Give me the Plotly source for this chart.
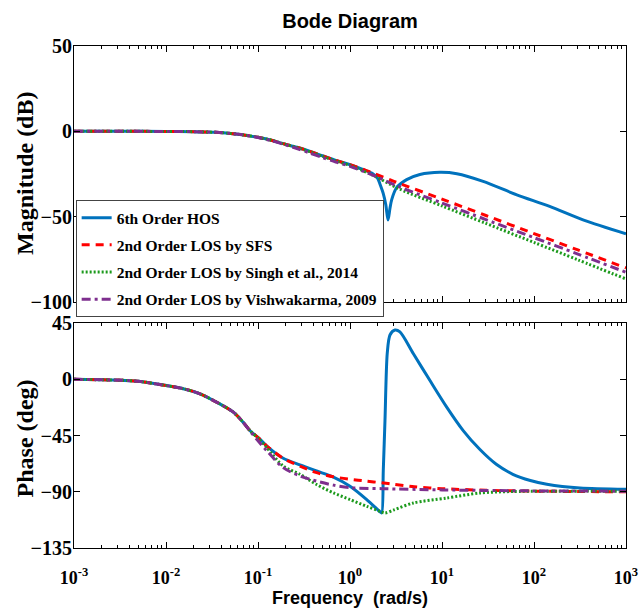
import plotly.graph_objects as go

# ---------------- Magnitude data (rad/s, dB) ----------------
w_mag_hos = [0.001, 0.003, 0.01, 0.02, 0.035, 0.05, 0.07, 0.1, 0.14, 0.19, 0.27, 0.37, 0.5, 0.7, 1.0, 1.4, 1.74,
             2.0, 2.12, 2.3, 2.45, 2.59, 2.72, 2.84, 3.21, 4.13, 5.75, 9.5, 14.5, 28, 65, 148, 347, 1000]
mag_hos = [0, 0, -0.05, -0.2, -0.6, -1.2, -2.1, -3.5, -5.2, -7.3, -9.5, -11.8, -14.3, -17.0, -19.6, -22.5, -24.6,
           -27.5, -31, -36.5, -43, -52, -45, -40, -33, -28.3, -25.3, -24.0, -24.8, -29.3, -37.2, -44, -52, -60]

w_mag_sfs = [0.001, 0.003, 0.01, 0.02, 0.035, 0.05, 0.07, 0.1, 0.14, 0.19, 0.27, 0.37, 0.5, 0.7, 1.0, 1.4, 1.74,
             3, 10, 30, 100, 300, 1000]
mag_sfs = [0, 0, -0.05, -0.2, -0.6, -1.2, -2.1, -3.5, -5.2, -7.3, -9.5, -11.8, -14.3, -17.0, -19.5, -22.3, -24.3,
           -29.3, -39.7, -49.3, -59.9, -69.5, -80.0]

w_mag_singh = [0.001, 0.003, 0.01, 0.02, 0.035, 0.05, 0.07, 0.1, 0.14, 0.19, 0.27, 0.37, 0.5, 0.7, 1.0, 1.74,
               3.49, 10, 30, 100, 300, 1000]
mag_singh = [0, 0, -0.05, -0.2, -0.6, -1.2, -2.1, -3.5, -5.2, -7.3, -9.6, -12.0, -14.6, -17.3, -20.0, -25.5,
             -33.9, -43.7, -53.9, -65.1, -75.3, -86.5]

w_mag_vish = [0.001, 0.003, 0.01, 0.02, 0.035, 0.05, 0.07, 0.1, 0.14, 0.19, 0.27, 0.37, 0.5, 0.7, 1.0, 1.74,
              3.49, 10, 30, 100, 300, 1000]
mag_vish = [0, 0, -0.05, -0.2, -0.6, -1.2, -2.1, -3.6, -5.5, -7.6, -10.2, -12.8, -15.3, -18.0, -20.5, -25.5,
            -32.7, -42.0, -51.7, -62.3, -71.9, -82.6]

# ---------------- Phase data (rad/s, deg) ----------------
w_ph_hos = [0.001, 0.0025, 0.005, 0.0068, 0.0154, 0.0234, 0.0356, 0.054, 0.069, 0.082, 0.105, 0.124, 0.188,
            0.286, 0.434, 0.66, 1.0, 1.52, 2.12, 2.21, 2.3, 2.4, 2.54, 2.72, 3.08, 3.49, 4.87, 7.4, 11.2, 17,
            25.7, 38.9, 58.9, 91.2, 138, 316, 1000]
ph_hos = [0, -0.5, -1.5, -3, -7.5, -11.6, -18.3, -26.3, -34.4, -41.1, -47.8, -53.2, -63.2,
          -68.5, -73.4, -78.2, -85.5, -96.2, -106, -107, -73, -33, 20.7, 35.5, 39.5, 38, 20.7, -1, -22, -41,
          -56, -68, -76, -81, -84, -87, -88]

w_ph_sfs = [0.001, 0.0025, 0.005, 0.0068, 0.0154, 0.0234, 0.0356, 0.054, 0.069, 0.082, 0.105, 0.124, 0.188,
            0.286, 0.434, 0.66, 1.0, 1.52, 2.2, 3, 5, 10, 30, 100, 1000]
ph_sfs = [0, -0.5, -1.5, -3, -7.5, -11.6, -18.3, -26.3, -34.4, -41.1, -47.8, -53.2, -63.2,
          -69.5, -74.7, -78.0, -80.0, -81.5, -82.8, -84.0, -86.0, -87.5, -88.8, -89.5, -90.0]

w_ph_singh = [0.001, 0.0025, 0.005, 0.0068, 0.0154, 0.0234, 0.0356, 0.054, 0.069, 0.082, 0.105, 0.124, 0.188,
              0.286, 0.434, 0.66, 1.0, 1.52, 2.12, 2.4, 3, 4.87, 11.2, 25.7, 58.9, 1000]
ph_singh = [0, -0.5, -1.5, -3, -7.5, -11.6, -18.3, -26.3, -34.4, -41.1, -48.5, -54.5, -69.4,
            -76.0, -84.2, -90.9, -96.2, -101.6, -105.6, -107, -104.5, -99, -95, -91, -89.8, -89.5]

w_ph_vish = [0.001, 0.0025, 0.005, 0.0068, 0.0154, 0.0234, 0.0356, 0.054, 0.069, 0.082, 0.105, 0.124, 0.188,
             0.286, 0.434, 0.66, 1.0, 2.2, 10, 100, 1000]
ph_vish = [0, -0.5, -1.5, -3, -7.5, -11.6, -18.3, -26.3, -34.4, -41.5, -51, -57, -70.7,
           -77.4, -81.5, -84.7, -86.8, -87.5, -88.5, -89.3, -89.5]

series_names = ["6th Order HOS", "2nd Order LOS by SFS", "2nd Order LOS by Singh et al., 2014",
                "2nd Order LOS by Vishwakarma, 2009"]
x_tickvals = [0.001, 0.01, 0.1, 1, 10, 100, 1000]
x_ticktext = ["10<sup>-3</sup>", "10<sup>-2</sup>", "10<sup>-1</sup>", "10<sup>0</sup>",
              "10<sup>1</sup>", "10<sup>2</sup>", "10<sup>3</sup>"]

styles = [
    dict(color="#0072BD", width=3, dash="solid"),
    dict(color="#FF0000", width=3, dash="8px,6px"),
    dict(color="#1C9A1C", width=3, dash="2px,2px"),
    dict(color="#7E2F8E", width=3, dash="9px,4px,3px,4px"),
]

mag_sets = [(w_mag_hos, mag_hos), (w_mag_sfs, mag_sfs), (w_mag_singh, mag_singh), (w_mag_vish, mag_vish)]
ph_sets = [(w_ph_hos, ph_hos), (w_ph_sfs, ph_sfs), (w_ph_singh, ph_singh), (w_ph_vish, ph_vish)]

fig = go.Figure()
for i, (name, st) in enumerate(zip(series_names, styles)):
    w, m = mag_sets[i]
    fig.add_trace(go.Scatter(x=w, y=m, mode="lines", name=name, line=dict(shape="spline", smoothing=0.8, **st),
                             xaxis="x", yaxis="y", legendgroup=f"g{i}"))
for i, (name, st) in enumerate(zip(series_names, styles)):
    w, p = ph_sets[i]
    fig.add_trace(go.Scatter(x=w, y=p, mode="lines", name=name, line=dict(shape="spline", smoothing=0.8, **st),
                             xaxis="x2", yaxis="y2", showlegend=False, legendgroup=f"g{i}"))

serif = "Liberation Serif, Times New Roman, serif"
sans = "Liberation Sans, Arial, sans-serif"
ytickfont = dict(family=serif, size=20, color="black", weight="bold")
xtickfont = dict(family=serif, size=18, color="black", weight="bold")
ytitlefont = dict(family=serif, size=24, color="black", weight="bold")
minor_vals = [m * 10 ** k for k in range(-3, 3) for m in range(2, 10)]

xcommon = dict(type="log", range=[-3, 3], tickmode="array", tickvals=x_tickvals, ticktext=x_ticktext,
               showline=True, linecolor="black", linewidth=1, mirror="allticks", ticks="inside", ticklen=6,
               tickcolor="black", showgrid=False, zeroline=False, tickfont=xtickfont, automargin=False,
               minor=dict(tickmode="array", tickvals=minor_vals, ticks="inside", ticklen=3, tickcolor="black",
                          showgrid=False))
ycommon = dict(showline=True, linecolor="black", linewidth=1, mirror="allticks", ticks="inside", ticklen=6,
               tickcolor="black", showgrid=False, zeroline=False, tickfont=ytickfont, ticklabelstandoff=-3,
               automargin=False)

fig.update_layout(
    width=642, height=613,
    margin=dict(l=74, r=16, t=46, b=65, autoexpand=False),
    paper_bgcolor="white", plot_bgcolor="white",
    title=dict(text="Bode Diagram", x=0.5, xref="paper", xanchor="center", y=1 - 21 / 613, yanchor="middle",
               font=dict(family=sans, size=20, color="black", weight="bold")),
    xaxis=dict(domain=[0, 1], anchor="y", showticklabels=False, matches="x2", **xcommon),
    yaxis=dict(domain=[0.490, 1], anchor="x", range=[-100, 50], tickvals=[-100, -50, 0, 50], **ycommon),
    xaxis2=dict(domain=[0, 1], anchor="y2", ticklabelstandoff=13,
                title=dict(text="Frequency\u00a0 (rad/s)", standoff=4,
                           font=dict(family=sans, size=18, color="black", weight="bold")), **xcommon),
    yaxis2=dict(domain=[0, 0.448], anchor="x2", range=[-135, 45], tickvals=[-135, -90, -45, 0, 45], **ycommon),
    legend=dict(x=0.003, y=0.693, xanchor="left", yanchor="top", bgcolor="white", bordercolor="#444",
                borderwidth=1, font=dict(family=serif, size=15.5, color="black", weight="bold"),
                tracegroupgap=4),
    showlegend=True,
    annotations=[
        dict(text="Magnitude (dB)", textangle=-90, xref="paper", yref="paper", x=-0.089, y=0.747,
             xanchor="center", yanchor="middle", showarrow=False, font=ytitlefont),
        dict(text="Phase (deg)", textangle=-90, xref="paper", yref="paper", x=-0.089, y=0.218,
             xanchor="center", yanchor="middle", showarrow=False, font=ytitlefont),
    ],
)

# remove the browser's default 8px body margin so the figure fills the window exactly
fig.write_html("out.html", config={"displayModeBar": False},
               post_script="document.body.style.margin='0';document.body.style.overflow='hidden';")
